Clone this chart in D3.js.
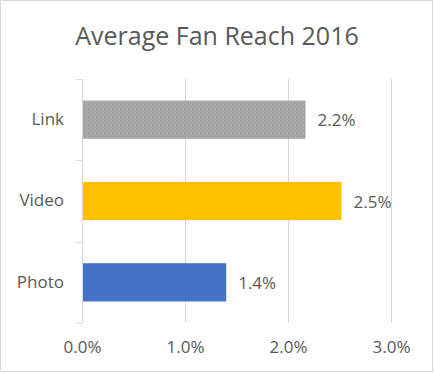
<!DOCTYPE html>
<html>
<head>
<meta charset="utf-8">
<script src="https://cdn.jsdelivr.net/npm/d3@7"></script>
<style>
  body { margin: 0; background: #fff; }
  svg { display: block; font-family: 'Open Sans', sans-serif; }
</style>
</head>
<body>
<svg width="434" height="373"></svg>
<script>
var categories = ['Link', 'Video', 'Photo'];
var reach = [2.17, 2.52, 1.40];
var colors = ['url(#dots)', '#ffc000', '#4472c4'];
var xTicks = [0, 1, 2, 3];

var svg = d3.select('svg'),
    width = +svg.attr('width'),
    height = +svg.attr('height');

// stipple fill for the Link bar
var pat = svg.append('defs').append('pattern')
  .attr('id', 'dots')
  .attr('width', 4).attr('height', 4)
  .attr('patternUnits', 'userSpaceOnUse');
pat.append('rect').attr('width', 4).attr('height', 4).attr('fill', '#a6a6a6');
pat.append('rect').attr('x', 0).attr('y', 0).attr('width', 1).attr('height', 1).attr('fill', '#999999');
pat.append('rect').attr('x', 2).attr('y', 2).attr('width', 1).attr('height', 1).attr('fill', '#9b9b9b');
pat.append('rect').attr('x', 3).attr('y', 1).attr('width', 1).attr('height', 1).attr('fill', '#b2b2b2');
pat.append('rect').attr('x', 1).attr('y', 3).attr('width', 1).attr('height', 1).attr('fill', '#b0b0b0');

svg.append('rect')
  .attr('x', 0.5).attr('y', 0.5)
  .attr('width', width - 2).attr('height', height - 2)
  .attr('fill', '#fff')
  .attr('stroke', '#d9d9d9');

var x = d3.scaleLinear().domain([0, 3]).range([82, 391]);
var y = d3.scaleBand().domain(categories).range([79, 323])
  .paddingInner(0.53).paddingOuter(0.265);

svg.append('text')
  .attr('x', width / 2).attr('y', 45)
  .attr('text-anchor', 'middle')
  .attr('font-size', 25)
  .attr('fill', '#595959')
  .text('Average Fan Reach 2016');

// gridlines
svg.append('g')
  .selectAll('line')
  .data(xTicks.slice(1))
  .enter().append('line')
  .attr('x1', function(d) { return Math.round(x(d)) + 0.5; })
  .attr('x2', function(d) { return Math.round(x(d)) + 0.5; })
  .attr('y1', 79).attr('y2', 323)
  .attr('stroke', '#d9d9d9');

// x axis labels
var xAxis = svg.append('g')
  .attr('transform', 'translate(0,323)')
  .call(d3.axisBottom(x).tickValues(xTicks)
    .tickFormat(function(d) { return d.toFixed(1) + '%'; })
    .tickSize(0).tickPadding(18));
xAxis.select('.domain').remove();
xAxis.selectAll('text')
  .attr('font-family', 'Open Sans, sans-serif')
  .attr('font-size', 17)
  .attr('fill', '#595959');

// left axis line and category boundary ticks
var band = y.step();
var bounds = [0, 1, 2, 3].map(function(i) { return 79 + i * band; });
svg.append('line')
  .attr('x1', 82.5).attr('x2', 82.5)
  .attr('y1', 79).attr('y2', 323)
  .attr('stroke', '#d9d9d9');
svg.append('g').selectAll('line')
  .data(bounds)
  .enter().append('line')
  .attr('x1', 76).attr('x2', 82.5)
  .attr('y1', function(d) { return Math.round(d) + 0.5; })
  .attr('y2', function(d) { return Math.round(d) + 0.5; })
  .attr('stroke', '#d9d9d9');

var yAxis = svg.append('g')
  .attr('transform', 'translate(64,0)')
  .call(d3.axisLeft(y).tickSize(0).tickPadding(0));
yAxis.select('.domain').remove();
yAxis.selectAll('text')
  .attr('font-family', 'Open Sans, sans-serif')
  .attr('font-size', 17)
  .attr('fill', '#595959');

var data = categories.map(function(c, i) {
  return { name: c, value: reach[i], color: colors[i] };
});

svg.append('g').selectAll('rect')
  .data(data)
  .enter().append('rect')
  .attr('x', x(0) + 1)
  .attr('y', function(d) { return y(d.name); })
  .attr('width', function(d) { return x(d.value) - x(0) - 1; })
  .attr('height', y.bandwidth())
  .attr('fill', function(d) { return d.color; });

svg.append('g').selectAll('text')
  .data(data)
  .enter().append('text')
  .attr('x', function(d) { return x(d.value) + 12; })
  .attr('y', function(d) { return y(d.name) + y.bandwidth() / 2 + 6.5; })
  .attr('font-size', 17)
  .attr('fill', '#595959')
  .text(function(d) { return d.value.toFixed(1) + '%'; });
</script>
</body>
</html>
